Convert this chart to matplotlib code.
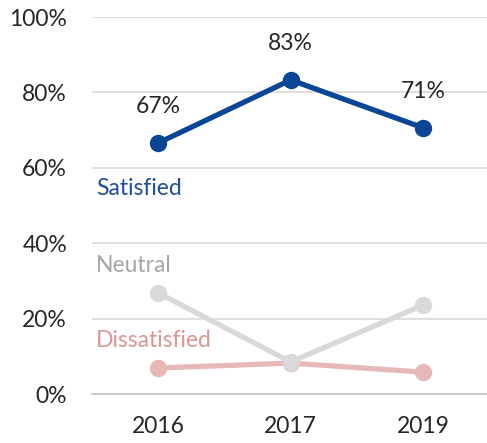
import matplotlib
matplotlib.use('Agg')
import matplotlib.pyplot as plt
from matplotlib.ticker import PercentFormatter

years = ['2016', '2017', '2019']
satisfied = [66.6, 83.3, 70.6]
neutral = [26.8, 8.5, 23.6]
dissatisfied = [6.9, 8.2, 5.8]
sat_labels = ['67%', '83%', '71%']
yticks = [0, 20, 40, 60, 80, 100]

c_sat = '#0B4595'
c_neu = '#D9D9D9'
c_dis = '#E6B9B8'


def main():
    plt.rcParams['font.family'] = ['Lato', 'DejaVu Sans']
    fig = plt.figure(figsize=(4.87, 4.43), dpi=100)
    ax = fig.add_axes([0.189, 0.1106, 0.816, 0.851])

    x = range(len(years))
    ax.plot(x, dissatisfied, color=c_dis, linewidth=3.8, marker='o',
            markersize=11.5, zorder=3)
    ax.plot(x, neutral, color=c_neu, linewidth=3.8, marker='o',
            markersize=11.5, zorder=4)
    ax.plot(x, satisfied, color=c_sat, linewidth=3.8, marker='o',
            markersize=11.5, zorder=5)

    for i, (v, s) in enumerate(zip(satisfied, sat_labels)):
        ax.annotate(s, (i, v), xytext=(0, 26), textcoords='offset points',
                    ha='center', va='center', fontsize=16.5, color='#262626')

    ax.text(-0.47, 54.4, 'Satisfied', color='#1F4E9A', fontsize=16.5,
            ha='left', va='center')
    ax.text(-0.47, 34.0, 'Neutral', color='#A6A6A6', fontsize=16.5,
            ha='left', va='center')
    ax.text(-0.47, 14.3, 'Dissatisfied', color='#D99694', fontsize=16.5,
            ha='left', va='center')

    ax.set_xlim(-0.5, 2.5)
    ax.set_ylim(0, 100)
    ax.set_xticks(list(x))
    ax.set_xticklabels(years)
    ax.set_yticks(yticks)
    ax.yaxis.set_major_formatter(PercentFormatter(decimals=0))
    ax.tick_params(axis='both', length=0, labelsize=16.5, colors='#262626')
    ax.tick_params(axis='y', pad=18)
    ax.tick_params(axis='x', pad=16)

    ax.grid(axis='y', color='#D9D9D9', linewidth=1.2)
    ax.set_axisbelow(True)
    for side in ['top', 'right', 'left']:
        ax.spines[side].set_visible(False)
    ax.spines['bottom'].set_color('#BFBFBF')
    ax.spines['bottom'].set_linewidth(1.2)

    fig.savefig('out.png', dpi=100)


if __name__ == "__main__":
    main()
